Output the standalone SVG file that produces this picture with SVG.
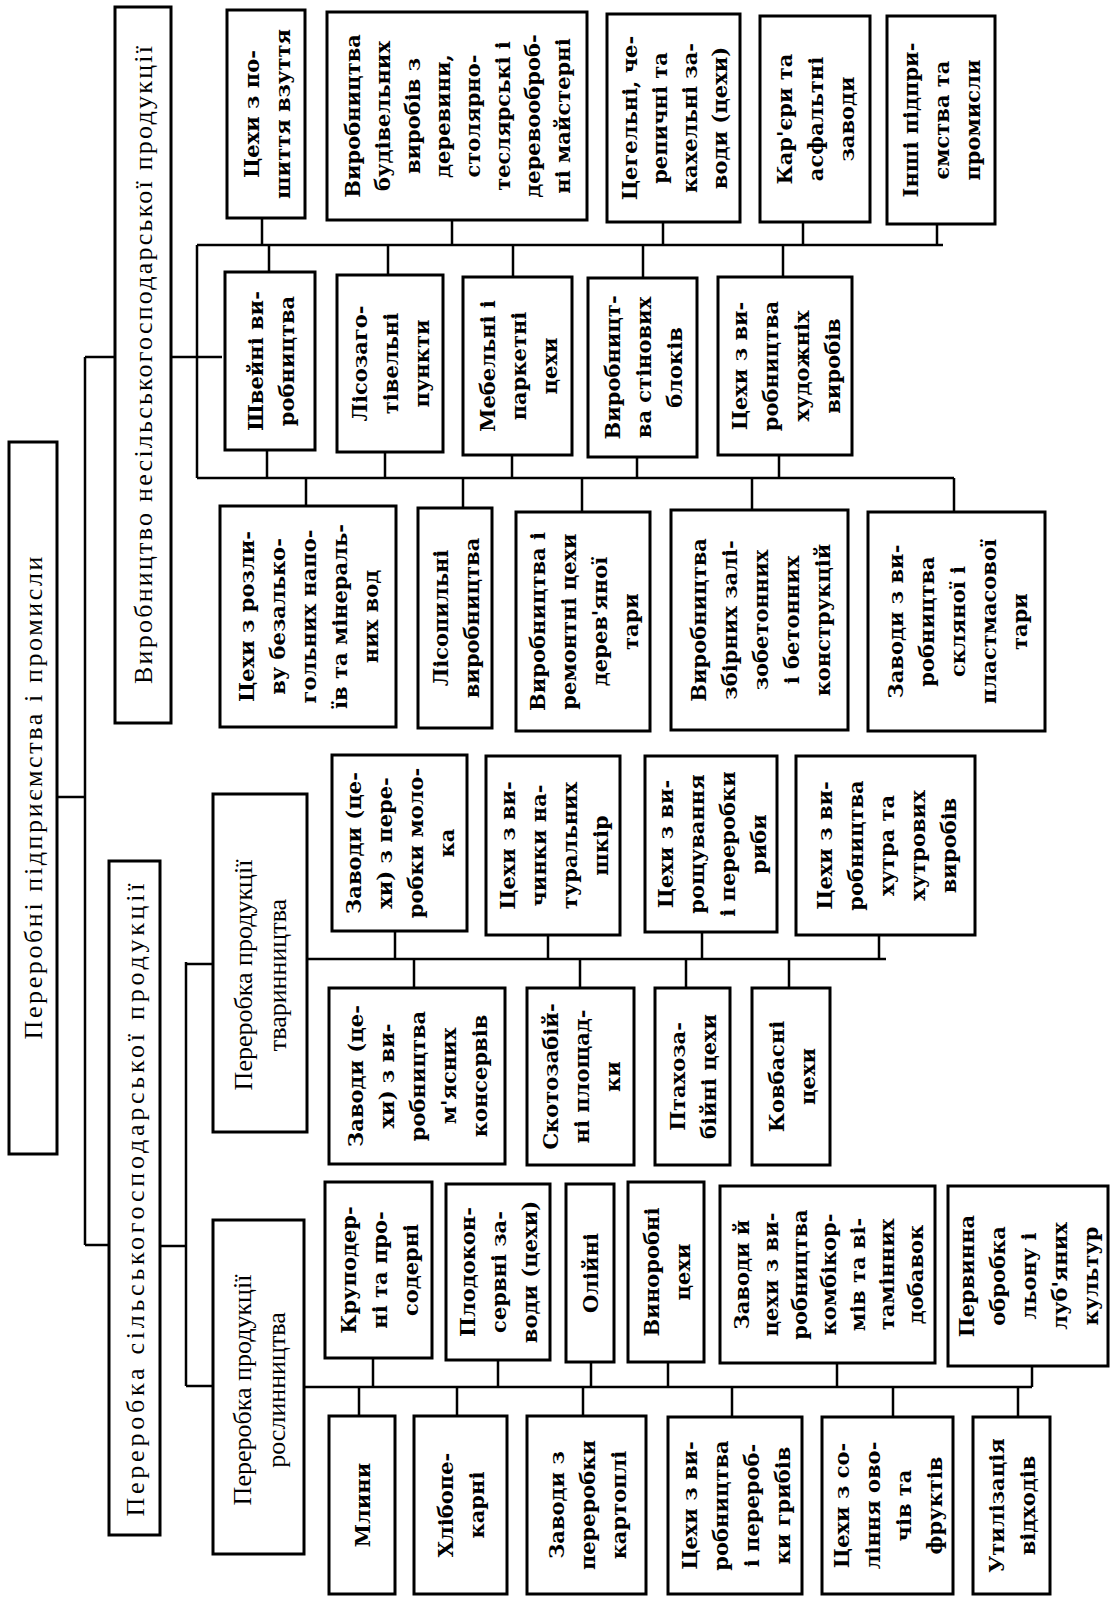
<svg xmlns="http://www.w3.org/2000/svg" width="1112" height="1598" viewBox="0 0 1112 1598">
<style>
rect{fill:#fff;stroke:#000;stroke-width:3}
#connectors path{fill:none;stroke:#000;stroke-width:2.5}
text{font-family:"Liberation Serif","DejaVu Serif",serif;text-anchor:middle;fill:#000}
.t{font-family:"DejaVu Serif","Liberation Serif",serif;font-size:21px;font-weight:bold}
.m{font-size:26px}
</style>
<rect x="0" y="0" width="1112" height="1598" style="fill:#fff;stroke:none"/>
<g id="connectors">
<path d="M85,357V1245M85,357H115M57,797H85M85,1245H109M171,357H222"/>
<path d="M197,245V478M197,245H943M197,478H954"/>
<path d="M262,218V245M452,220V245M663,222V245M803,222V245M937,224V245"/>
<path d="M269,245V272M388,245V275M513,245V277M643,245V278M783,245V277"/>
<path d="M267,450V478M385,452V478M512,455V478M637,457V478M779,455V478"/>
<path d="M306,478V506M463,478V508M582,478V512M752,478V510M954,478V512"/>
<path d="M160,1246H186M186,962V1386M186,964H213M186,1386H213"/>
<path d="M307,959H886M395,930V959M548,935V959M702,932V959M879,935V959M414,959V988M580,959V988M686,959V988M789,959V988"/>
<path d="M304,1387H1032M373,1358V1387M498,1360V1387M591,1362V1387M668,1362V1387M837,1363V1387M1032,1366V1387M359,1387V1416M457,1387V1416M583,1387V1416M732,1387V1417M893,1387V1417M1018,1387V1417"/>
</g>
<g id="root"><rect x="9" y="442" width="48" height="712"/><text class="m" transform="translate(33,798) rotate(-90)" y="9" textLength="483" lengthAdjust="spacing">Переробні підприємства і промисли</text></g>
<g id="nonagri"><rect x="115" y="7" width="56" height="716"/><text class="m" transform="translate(143,365) rotate(-90)" y="9" textLength="638" lengthAdjust="spacing">Виробництво несільськогосподарської продукції</text></g>
<g id="agri"><rect x="109" y="861" width="51" height="674"/><text class="m" transform="translate(134.5,1200) rotate(-90)" y="9" textLength="633" lengthAdjust="spacing">Переробка сільськогосподарської продукції</text></g>
<g id="tvar"><rect x="213" y="794" width="94" height="338"/><text class="m" transform="translate(260,975) rotate(-90)"><tspan x="0" y="-8">Переробка продукції</tspan><tspan x="0" y="26">тваринництва</tspan></text></g>
<g id="rosl"><rect x="213" y="1220" width="91" height="334"/><text class="m" transform="translate(258.5,1390) rotate(-90)"><tspan x="0" y="-8">Переробка продукції</tspan><tspan x="0" y="26">рослинництва</tspan></text></g>

<g id="a1"><rect x="227" y="10" width="78" height="208"/><text class="t" transform="translate(266,114) rotate(-90)"><tspan x="0" y="-7.5">Цехи з по-</tspan><tspan x="0" y="23.5">шиття взуття</tspan></text></g>
<g id="a2"><rect x="327" y="12" width="260" height="208"/><text class="t" transform="translate(457,116) rotate(-90)"><tspan x="0" y="-97">Виробництва</tspan><tspan x="0" y="-67">будівельних</tspan><tspan x="0" y="-37">виробів з</tspan><tspan x="0" y="-7">деревини,</tspan><tspan x="0" y="23">столярно-</tspan><tspan x="0" y="53">теслярські і</tspan><tspan x="0" y="83">деревооброб-</tspan><tspan x="0" y="113">ні майстерні</tspan></text></g>
<g id="a3"><rect x="607" y="14" width="133" height="208"/><text class="t" transform="translate(673.5,118) rotate(-90)"><tspan x="0" y="-37">Цегельні, че-</tspan><tspan x="0" y="-7">репичні та</tspan><tspan x="0" y="23">кахельні за-</tspan><tspan x="0" y="53">води (цехи)</tspan></text></g>
<g id="a4"><rect x="760" y="16" width="110" height="206"/><text class="t" transform="translate(815,119) rotate(-90)"><tspan x="0" y="-23">Кар'єри та</tspan><tspan x="0" y="8">асфальтні</tspan><tspan x="0" y="39">заводи</tspan></text></g>
<g id="a5"><rect x="887" y="16" width="108" height="208"/><text class="t" transform="translate(941,120) rotate(-90)"><tspan x="0" y="-23">Інші підпри-</tspan><tspan x="0" y="8">ємства та</tspan><tspan x="0" y="39">промисли</tspan></text></g>

<g id="b1"><rect x="225" y="272" width="90" height="178"/><text class="t" transform="translate(270,361) rotate(-90)"><tspan x="0" y="-7.5">Швейні ви-</tspan><tspan x="0" y="23.5">робництва</tspan></text></g>
<g id="b2"><rect x="337" y="275" width="106" height="177"/><text class="t" transform="translate(390,363.5) rotate(-90)"><tspan x="0" y="-23">Лісозаго-</tspan><tspan x="0" y="8">тівельні</tspan><tspan x="0" y="39">пункти</tspan></text></g>
<g id="b3"><rect x="463" y="277" width="109" height="178"/><text class="t" transform="translate(517.5,366) rotate(-90)"><tspan x="0" y="-23">Мебельні і</tspan><tspan x="0" y="8">паркетні</tspan><tspan x="0" y="39">цехи</tspan></text></g>
<g id="b4"><rect x="588" y="278" width="109" height="179"/><text class="t" transform="translate(642.5,367.5) rotate(-90)"><tspan x="0" y="-23">Виробницт-</tspan><tspan x="0" y="8">ва стінових</tspan><tspan x="0" y="39">блоків</tspan></text></g>
<g id="b5"><rect x="718" y="277" width="134" height="178"/><text class="t" transform="translate(785,366) rotate(-90)"><tspan x="0" y="-38.5">Цехи з ви-</tspan><tspan x="0" y="-7.5">робництва</tspan><tspan x="0" y="23.5">художніх</tspan><tspan x="0" y="54.5">виробів</tspan></text></g>

<g id="c1"><rect x="220" y="506" width="176" height="221"/><text class="t" transform="translate(308,616.5) rotate(-90)"><tspan x="0" y="-54">Цехи з розли-</tspan><tspan x="0" y="-23">ву безалько-</tspan><tspan x="0" y="8">гольних напо-</tspan><tspan x="0" y="39">їв та мінераль-</tspan><tspan x="0" y="70">них вод</tspan></text></g>
<g id="c2"><rect x="418" y="508" width="74" height="220"/><text class="t" transform="translate(455,618) rotate(-90)"><tspan x="0" y="-7.5">Лісопильні</tspan><tspan x="0" y="23.5">виробництва</tspan></text></g>
<g id="c3"><rect x="516" y="512" width="134" height="219"/><text class="t" transform="translate(583,621.5) rotate(-90)"><tspan x="0" y="-38.5">Виробництва і</tspan><tspan x="0" y="-7.5">ремонтні цехи</tspan><tspan x="0" y="23.5">дерев'яної</tspan><tspan x="0" y="54.5">тари</tspan></text></g>
<g id="c4"><rect x="671" y="510" width="177" height="220"/><text class="t" transform="translate(759.5,620) rotate(-90)"><tspan x="0" y="-54">Виробництва</tspan><tspan x="0" y="-23">збірних залі-</tspan><tspan x="0" y="8">зобетонних</tspan><tspan x="0" y="39">і бетонних</tspan><tspan x="0" y="70">конструкцій</tspan></text></g>
<g id="c5"><rect x="868" y="512" width="177" height="219"/><text class="t" transform="translate(956.5,621.5) rotate(-90)"><tspan x="0" y="-54">Заводи з ви-</tspan><tspan x="0" y="-23">робництва</tspan><tspan x="0" y="8">скляної і</tspan><tspan x="0" y="39">пластмасової</tspan><tspan x="0" y="70">тари</tspan></text></g>

<g id="d1"><rect x="332" y="755" width="135" height="176"/><text class="t" transform="translate(399.5,843) rotate(-90)"><tspan x="0" y="-38.5">Заводи (це-</tspan><tspan x="0" y="-7.5">хи) з пере-</tspan><tspan x="0" y="23.5">робки моло-</tspan><tspan x="0" y="54.5">ка</tspan></text></g>
<g id="d2"><rect x="486" y="756" width="134" height="179"/><text class="t" transform="translate(553,845.5) rotate(-90)"><tspan x="0" y="-38.5">Цехи з ви-</tspan><tspan x="0" y="-7.5">чинки на-</tspan><tspan x="0" y="23.5">туральних</tspan><tspan x="0" y="54.5">шкір</tspan></text></g>
<g id="d3"><rect x="645" y="756" width="132" height="176"/><text class="t" transform="translate(711,844) rotate(-90)"><tspan x="0" y="-38.5">Цехи з ви-</tspan><tspan x="0" y="-7.5">рощування</tspan><tspan x="0" y="23.5">і переробки</tspan><tspan x="0" y="54.5">риби</tspan></text></g>
<g id="d4"><rect x="796" y="756" width="179" height="179"/><text class="t" transform="translate(885.5,845.5) rotate(-90)"><tspan x="0" y="-54">Цехи з ви-</tspan><tspan x="0" y="-23">робництва</tspan><tspan x="0" y="8">хутра та</tspan><tspan x="0" y="39">хутрових</tspan><tspan x="0" y="70">виробів</tspan></text></g>

<g id="e1"><rect x="329" y="988" width="176" height="176"/><text class="t" transform="translate(417,1076) rotate(-90)"><tspan x="0" y="-54">Заводи (це-</tspan><tspan x="0" y="-23">хи) з ви-</tspan><tspan x="0" y="8">робництва</tspan><tspan x="0" y="39">м'ясних</tspan><tspan x="0" y="70">консервів</tspan></text></g>
<g id="e2"><rect x="527" y="988" width="107" height="177"/><text class="t" transform="translate(580.5,1076.5) rotate(-90)"><tspan x="0" y="-23">Скотозабій-</tspan><tspan x="0" y="8">ні площад-</tspan><tspan x="0" y="39">ки</tspan></text></g>
<g id="e3"><rect x="655" y="988" width="75" height="177"/><text class="t" transform="translate(692.5,1076.5) rotate(-90)"><tspan x="0" y="-7.5">Птахоза-</tspan><tspan x="0" y="23.5">бійні цехи</tspan></text></g>
<g id="e4"><rect x="752" y="988" width="78" height="177"/><text class="t" transform="translate(791,1076.5) rotate(-90)"><tspan x="0" y="-7.5">Ковбасні</tspan><tspan x="0" y="23.5">цехи</tspan></text></g>

<g id="f1"><rect x="325" y="1182" width="107" height="176"/><text class="t" transform="translate(378.5,1270) rotate(-90)"><tspan x="0" y="-23">Круподер-</tspan><tspan x="0" y="8">ні та про-</tspan><tspan x="0" y="39">содерні</tspan></text></g>
<g id="f2"><rect x="446" y="1184" width="104" height="176"/><text class="t" transform="translate(498,1272) rotate(-90)"><tspan x="0" y="-23">Плодокон-</tspan><tspan x="0" y="8">сервні за-</tspan><tspan x="0" y="39">води (цехи)</tspan></text></g>
<g id="f3"><rect x="566" y="1184" width="48" height="178"/><text class="t" transform="translate(590,1273) rotate(-90)"><tspan x="0" y="8">Олійні</tspan></text></g>
<g id="f4"><rect x="628" y="1182" width="76" height="180"/><text class="t" transform="translate(666,1272) rotate(-90)"><tspan x="0" y="-7.5">Виноробні</tspan><tspan x="0" y="23.5">цехи</tspan></text></g>
<g id="f5"><rect x="720" y="1186" width="215" height="177"/><text class="t" transform="translate(827.5,1274.5) rotate(-90)"><tspan x="0" y="-79">Заводи й</tspan><tspan x="0" y="-50">цехи з ви-</tspan><tspan x="0" y="-21">робництва</tspan><tspan x="0" y="8">комбікор-</tspan><tspan x="0" y="37">мів та ві-</tspan><tspan x="0" y="66">тамінних</tspan><tspan x="0" y="95">добавок</tspan></text></g>
<g id="f6"><rect x="948" y="1186" width="160" height="180"/><text class="t" transform="translate(1028,1276) rotate(-90)"><tspan x="0" y="-54">Первинна</tspan><tspan x="0" y="-23">обробка</tspan><tspan x="0" y="8">льону і</tspan><tspan x="0" y="39">луб'яних</tspan><tspan x="0" y="70">культур</tspan></text></g>

<g id="g1"><rect x="329" y="1416" width="66" height="178"/><text class="t" transform="translate(362,1505) rotate(-90)"><tspan x="0" y="8">Млини</tspan></text></g>
<g id="g2"><rect x="414" y="1416" width="93" height="178"/><text class="t" transform="translate(460.5,1505) rotate(-90)"><tspan x="0" y="-7.5">Хлібопе-</tspan><tspan x="0" y="23.5">карні</tspan></text></g>
<g id="g3"><rect x="527" y="1416" width="119" height="178"/><text class="t" transform="translate(586.5,1505) rotate(-90)"><tspan x="0" y="-23">Заводи з</tspan><tspan x="0" y="8">переробки</tspan><tspan x="0" y="39">картоплі</tspan></text></g>
<g id="g4"><rect x="668" y="1417" width="134" height="177"/><text class="t" transform="translate(735,1505.5) rotate(-90)"><tspan x="0" y="-38.5">Цехи з ви-</tspan><tspan x="0" y="-7.5">робництва</tspan><tspan x="0" y="23.5">і перероб-</tspan><tspan x="0" y="54.5">ки грибів</tspan></text></g>
<g id="g5"><rect x="822" y="1417" width="131" height="177"/><text class="t" transform="translate(887.5,1505.5) rotate(-90)"><tspan x="0" y="-38.5">Цехи з со-</tspan><tspan x="0" y="-7.5">ління ово-</tspan><tspan x="0" y="23.5">чів та</tspan><tspan x="0" y="54.5">фруктів</tspan></text></g>
<g id="g6"><rect x="973" y="1417" width="77" height="177"/><text class="t" transform="translate(1011.5,1505.5) rotate(-90)"><tspan x="0" y="-7.5">Утилізація</tspan><tspan x="0" y="23.5">відходів</tspan></text></g>
</svg>
